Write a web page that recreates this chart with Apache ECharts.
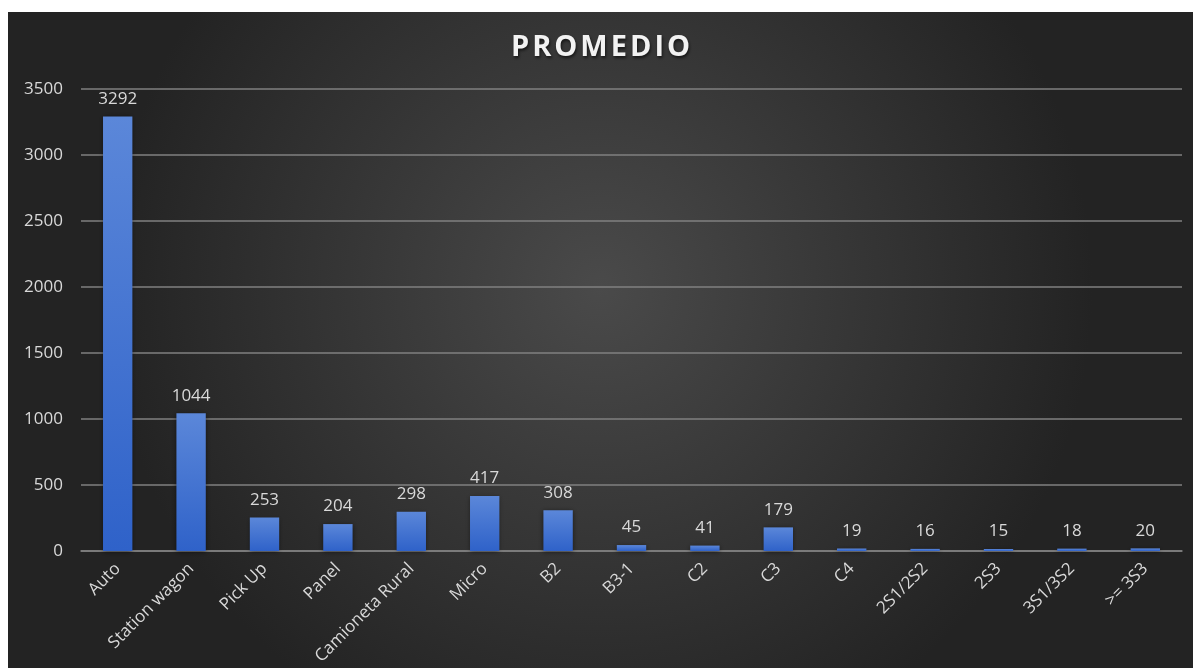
<!DOCTYPE html>
<html>
<head>
<meta charset="utf-8">
<script src="https://cdn.jsdelivr.net/npm/echarts@6/dist/echarts.min.js"></script>
<style>
  html, body { margin: 0; padding: 0; background: #ffffff; }
  #chart { position: absolute; left: 8px; top: 12px; width: 1185px; height: 656px; }
</style>
</head>
<body>
<div id="chart"></div>
<script>
// Vehicle categories and their average counts
const categories = ['Auto', 'Station wagon', 'Pick Up', 'Panel', 'Camioneta Rural', 'Micro', 'B2', 'B3-1', 'C2', 'C3', 'C4', '2S1/2S2', '2S3', '3S1/3S2', '>= 3S3'];
const promedio = [3292, 1044, 253, 204, 298, 417, 308, 45, 41, 179, 19, 16, 15, 18, 20];
const yTicks = { min: 0, max: 3500, interval: 500 };
const titleText = 'PROMEDIO';

const chart = echarts.init(document.getElementById('chart'));
const textColor = '#d9d9d9';
const fontFamily = '"Open Sans", "Noto Sans", sans-serif';

// Each title letter is its own rich fragment so it can be tracked out
const spacedTitle = titleText.split('').map(c => '{t|' + c + '}').join('');

chart.setOption({
  backgroundColor: {
    type: 'radial', x: 0.5, y: 0.42, r: 0.75,
    colorStops: [
      { offset: 0, color: '#4a4a4a' },
      { offset: 1, color: '#232323' }
    ]
  },
  title: {
    text: spacedTitle,
    left: 'center',
    top: 16,
    textStyle: {
      rich: {
        t: {
          color: '#f2f2f2', fontFamily: fontFamily, fontWeight: 'bold', fontSize: 29,
          padding: [0, 1.5, 0, 1.5],
          textShadowColor: 'rgba(0,0,0,0.6)', textShadowBlur: 3, textShadowOffsetX: 1, textShadowOffsetY: 2
        }
      }
    }
  },
  grid: { left: 73, right: 11, top: 77, bottom: 117, containLabel: false },
  xAxis: {
    type: 'category',
    data: categories,
    axisLine: { show: true, lineStyle: { color: '#808080', width: 1.5 } },
    axisTick: { show: false },
    axisLabel: { color: textColor, fontFamily: fontFamily, fontSize: 17, rotate: 45, margin: 15, interval: 0 }
  },
  yAxis: {
    type: 'value',
    min: yTicks.min, max: yTicks.max, interval: yTicks.interval,
    axisLine: { show: false },
    axisTick: { show: false },
    axisLabel: { color: textColor, fontFamily: fontFamily, fontSize: 17, margin: 18, formatter: v => String(v) },
    splitLine: { lineStyle: { color: '#808080', width: 1.5 } }
  },
  series: [{
    type: 'bar',
    data: promedio,
    barWidth: '40%',
    itemStyle: {
      color: {
        type: 'linear', x: 0, y: 0, x2: 0, y2: 1,
        colorStops: [
          { offset: 0, color: '#5b87d9' },
          { offset: 1, color: '#2f62c9' }
        ]
      },
      shadowColor: 'rgba(0,0,0,0.5)', shadowBlur: 5, shadowOffsetY: 1
    },
    label: {
      show: true, position: 'top', distance: 9,
      color: textColor, fontFamily: fontFamily, fontSize: 17
    }
  }]
});
</script>
</body>
</html>
